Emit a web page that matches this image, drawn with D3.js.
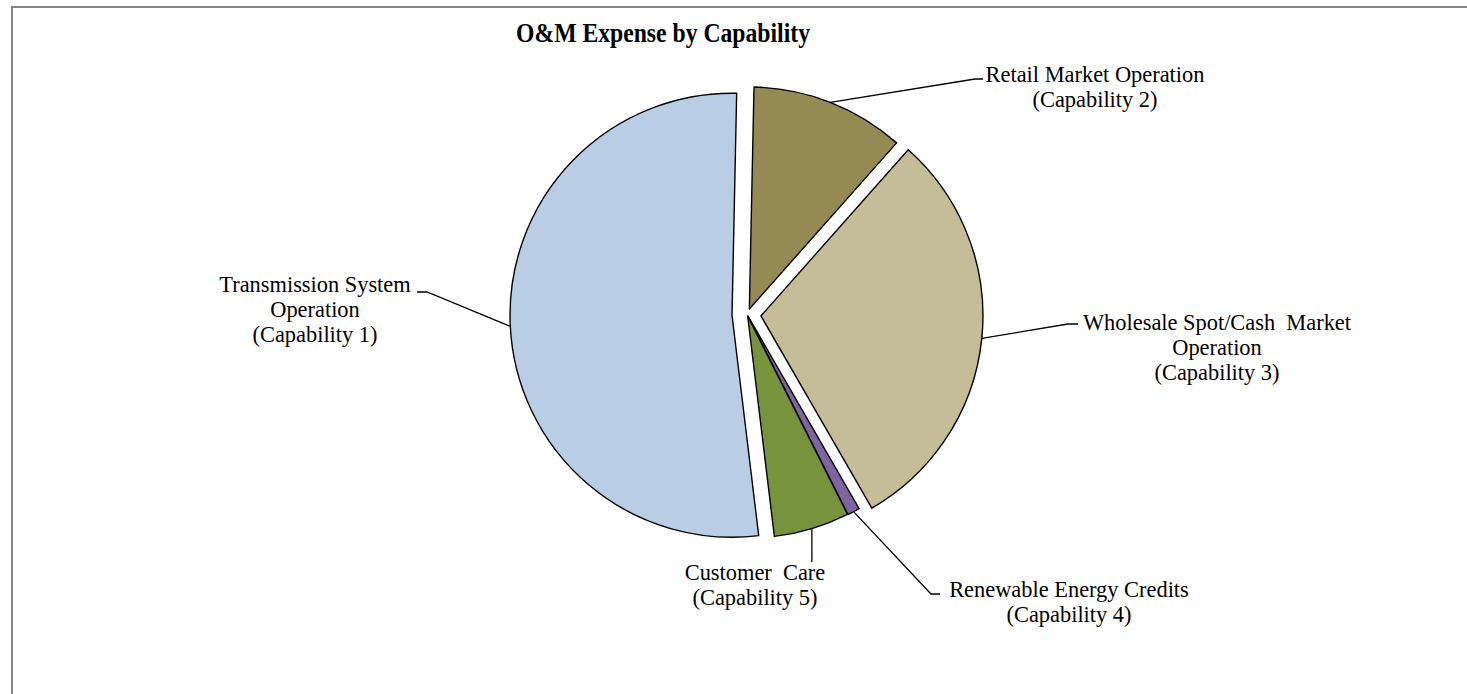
<!DOCTYPE html>
<html>
<head>
<meta charset="utf-8">
<script src="https://cdn.jsdelivr.net/npm/d3@7/dist/d3.min.js"></script>
<style>
  html, body { margin: 0; padding: 0; background: #fff; }
  svg { display: block; }
  text { font-family: "Liberation Serif", "Times New Roman", serif; fill: #000; }
</style>
</head>
<body>
<svg id="chart" width="1467" height="694"></svg>
<script>
// Share of O&M expense by capability (%), in drawing order clockwise from 12 o'clock
const categories = [
  "Retail Market Operation (Capability 2)",
  "Wholesale Spot/Cash Market Operation (Capability 3)",
  "Renewable Energy Credits (Capability 4)",
  "Customer Care (Capability 5)",
  "Transmission System Operation (Capability 1)"
];
const values = [11.2, 30.1, 0.9, 5.5, 52.2];
const labelLines = [
  ["Retail Market Operation", "(Capability 2)"],
  ["Wholesale Spot/Cash\u00a0 Market", "Operation", "(Capability 3)"],
  ["Renewable Energy Credits", "(Capability 4)"],
  ["Customer\u00a0 Care", "(Capability 5)"],
  ["Transmission System", "Operation", "(Capability 1)"]
];
const title = "O&M Expense by Capability";

// ---- layout & style ----
const colors = ["#948A54", "#C4BD97", "#8064A2", "#77933C", "#B9CDE5"];
const explode = [5.9, 13.8, 2.0, 1.6, 15.2];     // px each slice is pulled out
const cx = 747.2, cy = 314.5, radius = 222;
const startDeg = 1.2;
const lineH = 25;
const labelSize = 22.4;
// label block: anchor x (text-anchor middle), first baseline y, leader elbow and end
const labelLayout = [
  { x: 1095, y: 82,  elbow: [975, 79],  end: [983, 79] },
  { x: 1217, y: 330, elbow: [1068, 324], end: [1078, 324] },
  { x: 1069, y: 597, elbow: [931, 594], end: [940, 594] },
  { x: 755,  y: 580, elbow: null,       end: null },
  { x: 315,  y: 292, elbow: [427, 292], end: [417, 292] }
];

const svg = d3.select("#chart");

// chart frame
svg.append("path")
  .attr("d", "M12,694 L12,7 L1467,7")
  .attr("fill", "none")
  .attr("stroke", "#868686")
  .attr("stroke-width", 2);

svg.append("text")
  .attr("x", 663).attr("y", 42)
  .attr("text-anchor", "middle")
  .attr("font-weight", "bold")
  .attr("font-size", 27)
  .attr("textLength", 294)
  .attr("lengthAdjust", "spacingAndGlyphs")
  .text(title);

const start = startDeg * Math.PI / 180;
const pie = d3.pie().sort(null).startAngle(start).endAngle(start + 2 * Math.PI);
const arcs = pie(values);
const arcGen = d3.arc().innerRadius(0).outerRadius(radius);

function offset(a, d) {
  const m = (a.startAngle + a.endAngle) / 2;
  return [Math.sin(m) * d, -Math.cos(m) * d];
}

const g = svg.append("g").attr("transform", `translate(${cx},${cy})`);

g.selectAll("path.slice")
  .data(arcs)
  .join("path")
  .attr("class", "slice")
  .attr("transform", (a, i) => { const o = offset(a, explode[i]); return `translate(${o[0]},${o[1]})`; })
  .attr("d", arcGen)
  .attr("fill", (a, i) => colors[i])
  .attr("stroke", "#000")
  .attr("stroke-width", 1.4)
  .attr("stroke-linejoin", "round");

// leader lines from the middle of each slice's rim
arcs.forEach((a, i) => {
  const o = offset(a, explode[i]);
  const rim = offset(a, radius);
  const p0 = [cx + o[0] + rim[0], cy + o[1] + rim[1]];
  const L = labelLayout[i];
  let pts;
  if (L.elbow) {
    pts = [p0, L.elbow, L.end];
  } else {
    // straight drop to the top of the label block
    pts = [p0, [p0[0], L.y - 18]];
  }
  svg.append("path")
    .attr("d", d3.line()(pts))
    .attr("fill", "none")
    .attr("stroke", "#000")
    .attr("stroke-width", 1.3);
});

// labels
labelLayout.forEach((L, i) => {
  const t = svg.append("text")
    .attr("text-anchor", "middle")
    .attr("font-size", labelSize)
    .attr("x", L.x).attr("y", L.y);
  labelLines[i].forEach((s, k) => {
    t.append("tspan").attr("x", L.x).attr("y", L.y + k * lineH).text(s);
  });
});
</script>
</body>
</html>
